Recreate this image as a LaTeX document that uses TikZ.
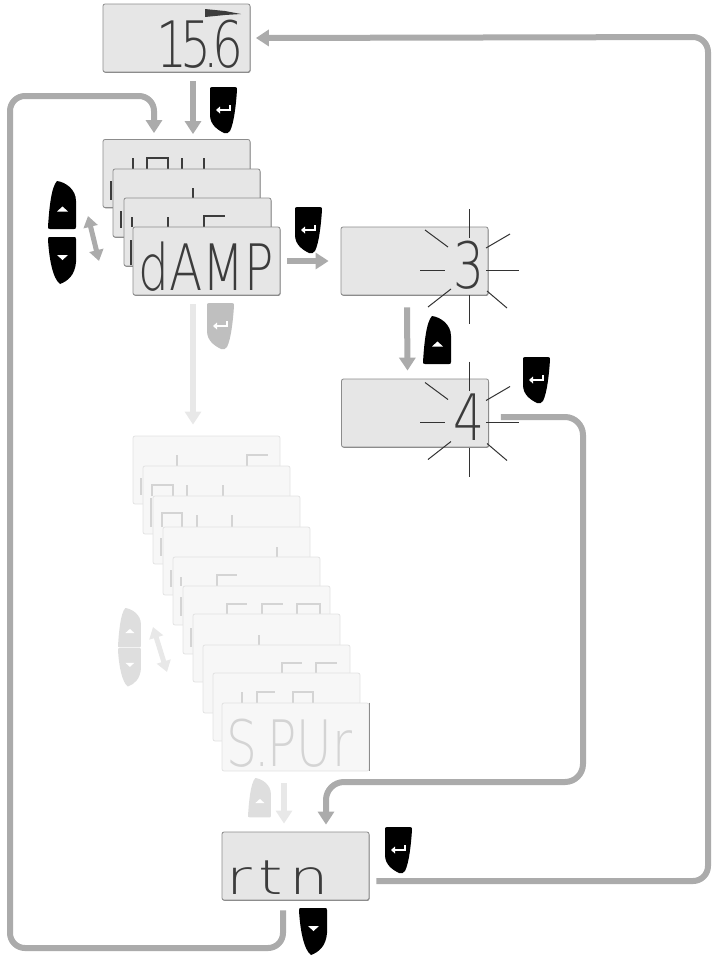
\documentclass[tikz,border=0pt]{standalone}
\usepackage{fontspec}
\usetikzlibrary{arrows.meta,shadows}
\newfontfamily\lcdfont[FakeStretch=0.76]{DejaVu Sans ExtraLight}
\newfontfamily\lcdwide[FakeStretch=1.3]{DejaVu Sans ExtraLight}
\definecolor{lcdgris}{HTML}{E6E6E6}
\definecolor{guia}{HTML}{ABABAB}
\definecolor{guiatenue}{HTML}{E8E8E8}
\definecolor{segoscuro}{HTML}{3C3C3C}
\definecolor{segtenue}{HTML}{D4D4D4}
\tikzset{
    pics/enterbtn/.style={code={
        \fill (2,0) -- (25,0) .. controls (27,0) and (27,1) .. (27,3) .. controls (26,18) and (24,36) .. (20,44) .. controls (19,46) and (16,47) .. (14,46) .. controls (8,43) and (0,38) .. (0,28) -- (0,3) .. controls (0,1) and (0,0) .. (2,0) -- cycle;
        \draw[white,line width=1.6pt] (20,18) -- (20,23) -- (10,23);
        \fill[white] (10,19.5) -- (6,23) -- (10,26.5) -- cycle;
    }},
    pics/upbtn/.style={code={
        \fill (0,46) .. controls (1,30) and (3,6) .. (9,0) .. controls (17,1) and (28,8) .. (28,20) -- (28,46) .. controls (28,48) and (27,48) .. (26,48) -- (2,48) .. controls (0,48) and (0,47) .. (0,46) -- cycle;
        \fill[white] (14.5,25.5) -- (20,30.5) -- (9,30.5) -- cycle;
    }},
    pics/downbtn/.style={code={
        \fill (0,2) .. controls (0,0) and (1,0) .. (2,0) -- (26,0) .. controls (27,0) and (28,0) .. (28,2) -- (28,25) .. controls (27,38) and (20,44) .. (12,47) .. controls (5,42) and (1,22) .. (0,2) -- cycle;
        \fill[white] (9,18) -- (20,18) -- (14.5,23) -- cycle;
    }},
    pics/rayos/.style={code={
        \draw[rayo] (469,209) -- (469,238);
        \draw[rayo] (486,248) -- (510,234);
        \draw[rayo] (486,270) -- (519,270);
        \draw[rayo] (487,291) -- (507,308);
        \draw[rayo] (469,295) -- (469,324);
        \draw[rayo] (451,289) -- (428,307);
        \draw[rayo] (420,270) -- (445,270);
        \draw[rayo] (425,230) -- (448,247);
    }}
}
\begin{document}
\begin{tikzpicture}[
        x=1pt, y=-1pt,
        lcd/.style={draw=black!45, fill=lcdgris, rounded corners=2pt, line width=.8pt,
        minimum width=147pt, minimum height=68pt, inner sep=0pt,
        drop shadow={shadow xshift=.5pt, shadow yshift=-.8pt, opacity=1, fill=black!50}},
        lcdtenue/.style={draw=black!11, fill=black!3, rounded corners=2pt, line width=.8pt,
        minimum width=147pt, minimum height=68pt, inner sep=0pt},
        lcdtxt/.style={inner sep=0pt, text=segoscuro, font=\lcdfont\fontsize{64}{64}\selectfont},
        seg/.style={draw=segoscuro, line width=2.2pt},
        segf/.style={draw=segtenue, line width=2.2pt},
        rayo/.style={draw=black!80, line width=1pt},
        flecha/.style={draw=guia, line width=6pt, -{Triangle[width=16pt,length=13pt]}},
        flechaf/.style={draw=guiatenue, line width=6pt, -{Triangle[width=16pt,length=13pt]}},
        doble/.style={line width=5pt, {Triangle[width=14pt,length=11pt]}-{Triangle[width=14pt,length=11pt]}}
    ]
        \useasboundingbox (0,0) rectangle (712,956);

        % pantalla de arriba
        \node[lcd] (valor) at (176.5,38) {};
        \fill[segoscuro] (205,9) -- (225,11) -- (241,14) -- (225,15) -- (205,17) -- cycle;
        \node[lcdtxt, anchor=base east] (valortxt) at ([xshift=-7,yshift=5]valor.south east) {1\kern-7pt 5\kern-8pt.\kern-7pt 6};

        % primer grupo
        \node[lcd] (c1) at (176.5,173.5) {};
        \draw[seg] (133,158) -- (133,169);
        \draw[seg] (147,169) -- (147,158) -- (168,158) -- (168,169);
        \draw[seg] (182,158) -- (182,169);
        \draw[seg] (204,158) -- (204,169);
        \draw[seg] (111,181) -- (111,200);
        \node[lcd] (c2) at (186.5,203) {};
        \draw[seg] (193,188) -- (193,198);
        \draw[seg] (121,211) -- (121,228);
        \node[lcd] (c3) at (197.5,232) {};
        \draw[seg] (132,217) -- (132,227);
        \draw[seg] (168,217) -- (168,227);
        \draw[seg] (204,227) -- (204,216) -- (225,216);
        \draw[seg] (131,240) -- (131,265);
        \node[lcd] (damp) at (206.5,261) {};
        \node[lcdtxt, anchor=base] (damptxt) at ([yshift=5]damp.south) {dAMP};

        % valor parpadeando
        \node[lcd] (val3) at (414.5,261) {};
        \node[lcdtxt, anchor=base] (val3txt) at (469,288) {3};
        \pic {rayos};
        \node[lcd] (val4) at (415,413) {};
        \node[lcdtxt, anchor=base] (val4txt) at (469,440) {4};
        \begin{scope}[yshift=-152.5pt]
            \pic {rayos};
        \end{scope}

        % grupo tenue
        \node[lcdtenue] (f1) at (206.5,470) {};
        \draw[segf] (177,455) -- (177,466);
        \draw[segf] (247,466) -- (247,455) -- (268,455);
        \draw[segf] (141,478) -- (141,495);
        \node[lcdtenue] (f2) at (216.5,500) {};
        \draw[segf] (152,496) -- (152,485) -- (173,485) -- (173,496);
        \draw[segf] (187,485) -- (187,496);
        \draw[segf] (223,485) -- (223,496);
        \draw[segf] (151,498) -- (151,527);
        \node[lcdtenue] (f3) at (226.5,530) {};
        \draw[segf] (162,527) -- (162,513) -- (182,513) -- (182,527);
        \draw[segf] (197,515) -- (197,527);
        \draw[segf] (232,515) -- (232,527);
        \draw[segf] (161,538) -- (161,556);
        \node[lcdtenue] (f4) at (236.5,561) {};
        \draw[segf] (277,547) -- (277,557);
        \draw[segf] (171,570) -- (171,587);
        \node[lcdtenue] (f5) at (246.5,591) {};
        \draw[segf] (181,577) -- (181,586);
        \draw[segf] (217,586) -- (217,575) -- (237,575);
        \draw[segf] (181,597) -- (181,616);
        \node[lcdtenue] (f6) at (256.5,620) {};
        \draw[segf] (227,614) -- (227,604) -- (247,604);
        \draw[segf] (262,614) -- (262,604) -- (283,604);
        \draw[segf] (297,614) -- (297,604) -- (320,604) -- (320,614);
        \draw[segf] (191,628) -- (191,647);
        \node[lcdtenue] (f7) at (266.5,648) {};
        \draw[segf] (259,635) -- (259,645);
        \draw[segf] (210,665) -- (210,693);
        \node[lcdtenue] (f8) at (276.5,679) {};
        \draw[segf] (282,673) -- (282,663) -- (302,663);
        \draw[segf] (316,673) -- (316,663) -- (337,663);
        \draw[segf] (220,717) -- (220,732);
        \node[lcdtenue] (f9) at (286.5,707) {};
        \draw[segf] (242,692) -- (242,703);
        \draw[segf] (257,703) -- (257,692) -- (275,692);
        \draw[segf] (293,703) -- (293,692) -- (313,692) -- (313,703);
        \node[lcdtenue] (spur) at (295.5,737) {};
        \draw[black!45, line width=1.5pt] (spur.north east) -- (spur.south east);
        \node[lcdtxt, text=segtenue, anchor=base west] (spurtxt) at ([xshift=5,yshift=5]spur.south west) {S\kern-3pt.\kern-3pt PUr};

        % pantalla de abajo
        \node[lcd] (rtn) at (295.5,866) {};
        \node[lcdtxt, font=\lcdwide\fontsize{48}{48}\selectfont, anchor=base west] (rtntxt) at ([xshift=5,yshift=6]rtn.south west) {r\kern6pt t\kern7pt n};

        % botones
        \pic[fill=black] at (210,87) {enterbtn};
        \pic[fill=black] at (295,207) {enterbtn};
        \pic[fill=black] at (523,357) {enterbtn};
        \pic[fill=black] at (385,827) {enterbtn};
        \pic[fill=black!25] at (207,303) {enterbtn};
        \pic[fill=black] at (48,181) {upbtn};
        \pic[fill=black] at (48,237) {downbtn};
        \pic[fill=black] at (423,316) {upbtn};
        \pic[fill=black] at (299,908) {downbtn};
        \pic[fill=black!13, scale=.82] at (118,608) {upbtn};
        \pic[fill=black!13, scale=.82] at (118,648) {downbtn};
        \pic[fill=black!13, scale=.82] at (248,778) {upbtn};

        % puntos libres
        \coordinate (dob1) at (88,216);
        \coordinate (dob2) at (99,261);
        \coordinate (dobf1) at (153,627);
        \coordinate (dobf2) at (167,672);

        % flechas
        \draw[flecha] ([xshift=16.5,yshift=-9]valor.south) -- ([xshift=16.5,yshift=5]c1.north);
        \draw[flecha, rounded corners=15pt] ([xshift=-12.5,yshift=-10]rtn.south) -- (283,948) -- (10,948) -- (10,96) -- (154,96) -- ([xshift=-22.5,yshift=6]c1.north);
        \draw[flecha, rounded corners=15pt] ([xshift=7]rtn.east |- 0,881) -- (708,881) -- (708,37) -- ([xshift=5.5]valor.east);
        \draw[flecha] ([xshift=7]damp.east) -- ([xshift=-12]val3.west);
        \draw[flecha] ([xshift=-7.5,yshift=-12]val3.south) -- ([xshift=-7.5,yshift=8]val4.north);
        \draw[flecha, rounded corners=18pt] ([xshift=12]val4.east |- 0,417) -- (583,417) -- (583,782) -- (326,782) -- ([xshift=30.5,yshift=7]rtn.north);
        \draw[doble, draw=guia] (dob1) -- (dob2);
        \draw[flechaf] ([xshift=-13.5,yshift=-9]damp.south) -- ([xshift=-13.5,yshift=11]f1.north);
        \draw[doble, draw=guiatenue] (dobf1) -- (dobf2);
        \draw[flechaf] ([xshift=-11.5,yshift=-12]spur.south) -- ([xshift=-11.5,yshift=8]rtn.north);
\end{tikzpicture}
\end{document}
